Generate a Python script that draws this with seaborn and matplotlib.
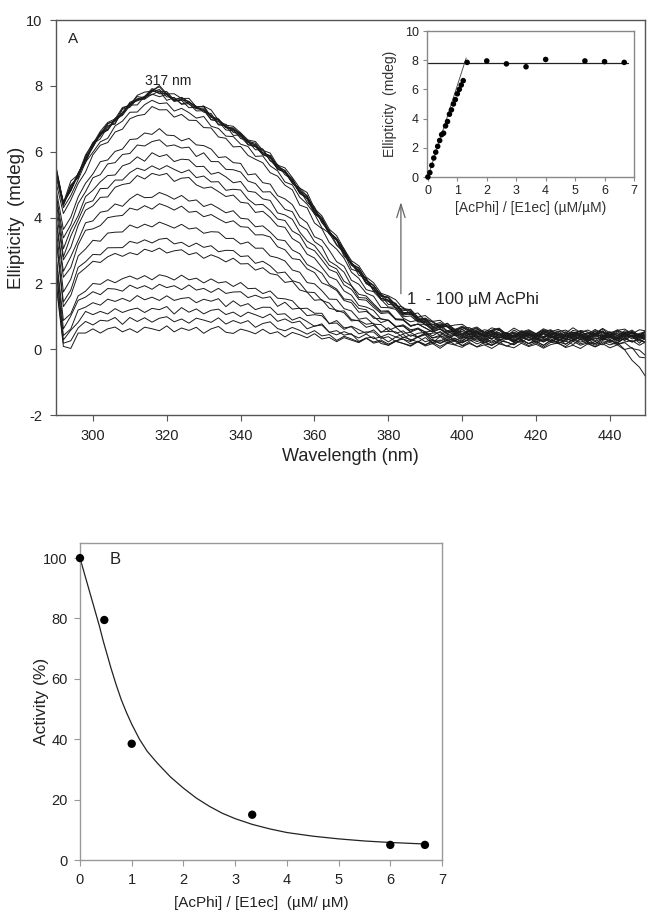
import numpy as np
import pandas as pd
import matplotlib
matplotlib.use("Agg")
import matplotlib.pyplot as plt
import seaborn as sns

# ---- data ----
# panel A: CD spectra on a 2 nm grid (290..450 nm)
wavelength = np.arange(290, 451, 2)

# normalised band shape of the strongest spectra
shape_high = [0.45, 0.60, 0.65, 0.667, 0.72, 0.785, 0.82, 0.85, 0.885, 0.92,
              0.945, 0.965, 0.985, 0.997, 1.0, 0.99, 0.974, 0.964, 0.951, 0.94,
              0.924, 0.898, 0.878, 0.862, 0.838, 0.818, 0.798, 0.771, 0.751, 0.729,
              0.698, 0.665, 0.632, 0.598, 0.559, 0.512, 0.472, 0.432, 0.386, 0.339,
              0.299, 0.259, 0.226, 0.193, 0.166, 0.14, 0.117, 0.10, 0.086, 0.069,
              0.056, 0.044, 0.035, 0.027, 0.021, 0.017, 0.013, 0.01, 0.007, 0.005,
              0.003] + [0.0] * 20
# normalised band shape of the weakest spectra
shape_low = [0.55, 0.45, 0.60, 0.78, 0.86, 0.90, 0.93, 0.95, 0.96, 0.97,
             0.98, 0.99, 0.995, 1.0, 1.0, 0.995, 0.99, 0.985, 0.975, 0.965,
             0.955, 0.945, 0.93, 0.915, 0.90, 0.88, 0.855, 0.825, 0.79, 0.75,
             0.70, 0.65, 0.595, 0.54, 0.48, 0.42, 0.365, 0.31, 0.26, 0.215,
             0.175, 0.14, 0.11, 0.085, 0.065, 0.05, 0.038, 0.028, 0.02, 0.014,
             0.009, 0.006, 0.004, 0.002, 0.001, 0.0] + [0.0] * 25
# detector spike at the short-wavelength end
spike = [1.6, -0.4, -0.3, -0.1] + [0.0] * 77
# trace noise
ripple = [0.00, 0.10, -0.12, 0.08, -0.05, 0.06, -0.08, 0.04, 0.09, -0.06,
          0.03, -0.09, 0.07, 0.02, -0.04, 0.11, -0.07, 0.05, -0.02, 0.08,
          -0.10, 0.04, 0.12, -0.05, -0.08, 0.06, 0.01, -0.06, 0.09, -0.03,
          0.05, -0.09, 0.07, 0.02, -0.05, 0.10, -0.04, 0.03, -0.08, 0.06,
          0.00, -0.06, 0.08, -0.02, 0.05, -0.07, 0.04, 0.09, -0.05, 0.02,
          -0.08, 0.06, -0.03, 0.07, -0.06, 0.03, 0.08, -0.04, 0.05, -0.09,
          0.06, 0.02, -0.07, 0.09, -0.03, 0.04, -0.08, 0.07, -0.02, 0.05,
          -0.06, 0.10, -0.04, 0.03, -0.07, 0.08, -0.05, 0.02, 0.06, -0.08,
          0.04]
# drift of some traces at the long-wavelength end
end_drop = [0.0] * 77 + [-0.2, -0.4, -0.7, -0.9]

# ellipticity at 317 nm for each titration step
peak_317 = [0.6, 0.9, 1.2, 1.55, 1.9, 2.2, 3.0, 3.3, 3.8, 4.35, 4.7, 5.3, 5.55,
            5.9, 6.3, 6.6, 7.3, 7.5, 7.75, 7.8, 7.8, 7.85, 7.85, 7.9, 7.8, 7.75]
baseline = [0.2, 0.15, 0.25, 0.1, 0.3, 0.2, 0.35, 0.25, 0.3, 0.4, 0.35, 0.3, 0.45,
            0.4, 0.35, 0.45, 0.4, 0.5, 0.45, 0.4, 0.5, 0.35, 0.45, 0.55, 0.4, 0.5]
drop_weight = [0.0, 0.5, 0.0, 1.0, 0.0, 0.4, 0, 0, 0, 0, 0, 0, 0,
               0, 0, 0, 0, 0, 0, 0, 0, 0, 0, 0, 0, 0]

# inset: ellipticity at 317 nm vs ratio
inset_ratio = [0, 0.067, 0.133, 0.2, 0.267, 0.333, 0.4, 0.467, 0.533, 0.6, 0.667,
               0.733, 0.8, 0.867, 0.933, 1.0, 1.067, 1.133, 1.2,
               1.333, 2.0, 2.667, 3.333, 4.0, 5.333, 6.0, 6.667]
inset_ellip = [0.0, 0.3, 0.8, 1.3, 1.7, 2.1, 2.5, 2.9, 3.0, 3.5, 3.8,
               4.3, 4.6, 5.0, 5.3, 5.7, 6.0, 6.3, 6.6,
               7.85, 7.95, 7.75, 7.55, 8.05, 7.95, 7.9, 7.85]
rise_x, rise_y = [0, 1.3], [0, 8.15]
plateau_x, plateau_y = [0, 6.8], [7.8, 7.8]

# panel B: residual activity
act_ratio = [0, 0.47, 1.0, 3.33, 6.0, 6.67]
activity = [100, 79.5, 38.5, 15, 5, 5]
fit_ratio = [0, 0.05, 0.1, 0.15, 0.2, 0.25, 0.3, 0.375, 0.45, 0.5, 0.6, 0.7, 0.8,
             0.9, 1.0, 1.15, 1.3, 1.5, 1.75, 2.0, 2.25, 2.5, 2.75, 3.0, 3.33,
             3.67, 4.0, 4.5, 5.0, 5.5, 6.0, 6.67]
fit_act = [100, 97, 94, 91, 88, 85, 82, 77.5, 72.5, 69.5, 63.5, 58, 53,
           48.8, 45, 40, 36, 32, 27.5, 23.8, 20.5, 17.8, 15.5, 13.7, 11.8,
           10.3, 9.1, 7.9, 7.0, 6.3, 5.8, 5.3]

# ---- build the spectra table ----
rows = []
shp_hi, shp_lo = np.array(shape_high), np.array(shape_low)
for i, (pk, b, dw) in enumerate(zip(peak_317, baseline, drop_weight)):
    f = pk / max(peak_317)
    shp = (1 - f) * shp_lo + f * shp_hi
    y = b + (pk - b) * shp + np.array(spike) + np.roll(ripple, i * 7) + dw * np.array(end_drop)
    rows.append(pd.DataFrame({"wl": wavelength, "ellip": y, "curve": i}))
spectra = pd.concat(rows)

# ---- figure ----
sns.set_theme(style="ticks")
plt.rcParams["font.family"] = ["Liberation Sans", "DejaVu Sans"]
plt.rcParams["axes.unicode_minus"] = False
W, H = 654, 918
fig = plt.figure(figsize=(W / 100, H / 100), dpi=100)

ax_a = fig.add_axes([56 / W, 1 - 415 / H, 589 / W, 395 / H])
ax_in = fig.add_axes([427 / W, 1 - 177 / H, 207 / W, 146 / H])
ax_b = fig.add_axes([80 / W, 1 - 860 / H, 362 / W, 317 / H])

def style(ax, spine_col, fs, pad=3, length=3):
    for s in ax.spines.values():
        s.set_color(spine_col)
        s.set_linewidth(1.0)
    ax.tick_params(direction="out", length=length, width=0.8, color=spine_col,
                   labelsize=fs, labelcolor="#222", pad=pad)

# panel A
sns.lineplot(data=spectra, x="wl", y="ellip", units="curve", estimator=None,
             color="#1a1a1a", lw=0.7, ax=ax_a, legend=False)
ax_a.set_xlim(290, 449.5)
ax_a.set_ylim(-2, 10)
ax_a.set_xticks(range(300, 441, 20))
ax_a.set_yticks(range(-2, 11, 2))
ax_a.set_xlabel("Wavelength (nm)", fontsize=13, color="#222")
ax_a.set_ylabel("Ellipticity  (mdeg)", fontsize=13.5, color="#222")
ax_a.xaxis.set_label_coords(0.5, -0.084)
ax_a.yaxis.set_label_coords(-0.052, 0.5)
style(ax_a, "#555555", 10.5, pad=6, length=4)
ax_a.text(294.6, 9.42, "A", fontsize=11, ha="center", va="center", color="#222")
ax_a.text(320.3, 8.15, "317 nm", fontsize=10, ha="center", va="center", color="#222")
ax_a.annotate("", xy=(383.4, 4.55), xytext=(383.4, 1.6),
              arrowprops=dict(arrowstyle="->,head_length=0.8,head_width=0.25",
                              color="#666666", lw=0.9))
ax_a.text(385.0, 1.52, "1  - 100 \u00b5M AcPhi", fontsize=12, ha="left",
          va="center", color="#222")

# inset
ax_in.set_facecolor("white")
ax_in.plot(plateau_x, plateau_y, color="#222", lw=0.9)
ax_in.plot(rise_x, rise_y, color="#555", lw=0.7)
sns.scatterplot(x=inset_ratio, y=inset_ellip, color="black", s=16,
                edgecolor="none", ax=ax_in, zorder=3, clip_on=False)
ax_in.set_xlim(-0.03, 7.0)
ax_in.set_ylim(0, 10)
ax_in.set_xticks(range(0, 8))
ax_in.set_yticks(range(0, 11, 2))
ax_in.set_xlabel("[AcPhi] / [E1ec] (\u00b5M/\u00b5M)", fontsize=10, color="#333")
ax_in.set_ylabel("Ellipticity  (mdeg)", fontsize=10, color="#333")
ax_in.xaxis.set_label_coords(0.5, -0.164)
ax_in.yaxis.set_label_coords(-0.145, 0.5)
style(ax_in, "#888888", 9)

# panel B
sns.lineplot(x=fit_ratio, y=fit_act, color="#222", lw=0.9, sort=False, ax=ax_b)
sns.scatterplot(x=act_ratio, y=activity, color="black", s=36, edgecolor="none",
                ax=ax_b, zorder=3, clip_on=False)
ax_b.set_xlim(0, 7)
ax_b.set_ylim(0, 105)
ax_b.set_xticks(range(0, 8))
ax_b.set_yticks(range(0, 101, 20))
ax_b.set_xlabel("[AcPhi] / [E1ec]  (\u00b5M/ \u00b5M)", fontsize=11, color="#222")
ax_b.set_ylabel("Activity (%)", fontsize=12.5, color="#222")
ax_b.xaxis.set_label_coords(0.5, -0.114)
ax_b.yaxis.set_label_coords(-0.086, 0.5)
style(ax_b, "#999999", 10.5, pad=5, length=4)
ax_b.text(0.68, 99.7, "B", fontsize=12, ha="center", va="center", color="#222")

fig.savefig("out.png", dpi=100)
